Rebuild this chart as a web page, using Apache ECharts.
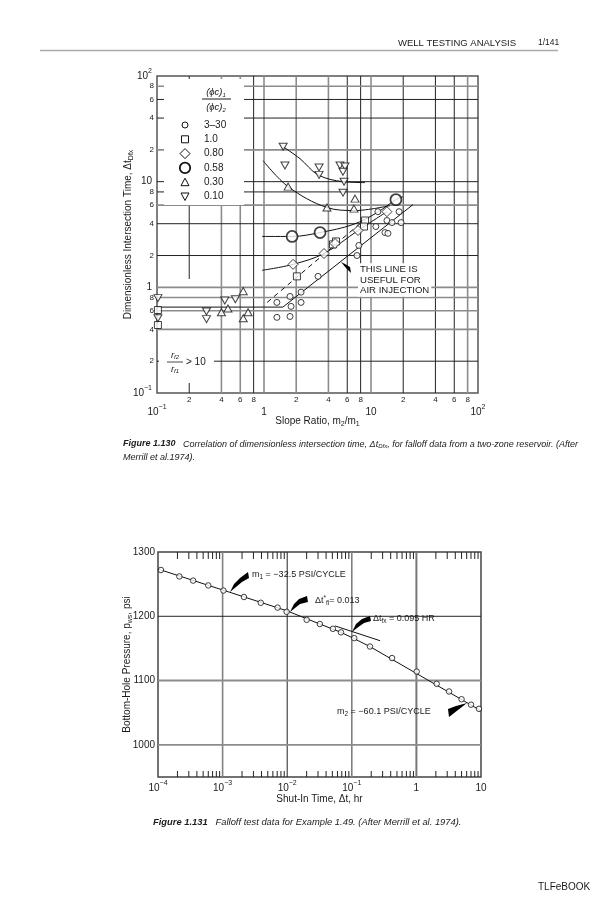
<!DOCTYPE html>
<html>
<head>
<meta charset="utf-8">
<script src="https://cdn.jsdelivr.net/npm/echarts@6.0.0/dist/echarts.min.js"></script>
<style>
html,body{margin:0;padding:0;background:#fff;}
#chart{width:604px;height:900px;}
</style>
</head>
<body>
<div id="chart"></div>
<script>
// ================= Figure 1.130 : Δt_Dfx vs slope ratio m2/m1 =================
const slopeRatioGrid = [0.2,0.4,0.6,0.8,1,2,4,6,8,10,20,40,60,80];
const deltaTGrid     = [0.2,0.4,0.6,0.8,1,2,4,6,8,10,20,40,60,80];
const legendRatios   = ['3\u201330','1.0','0.80','0.58','0.30','0.10'];

// [slope ratio m2/m1, Δt_Dfx]
const pts_3_30 = [[1.32,0.72],[1.75,0.82],[1.79,0.66],[1.32,0.52],[1.75,0.53],[2.22,0.90],[2.22,0.72],
                  [3.2,1.27],[7.4,2.0],[7.7,2.49],[11.1,3.76],[13.5,3.3],[14.4,3.24],[14.1,4.29],
                  [15.7,4.1],[19.1,4.1],[18.3,5.2],[11.6,5.2]];
const pts_1_0  = [[0.102,0.61],[0.102,0.44],[2.03,1.27],[4.41,2.55],[4.71,2.72],[8.8,4.29],[8.6,3.76]];
const pts_0_80 = [[1.87,1.65],[3.64,2.09],[4.61,2.60],[7.56,3.45],[14.1,5.2]];
const pts_0_58 = [[1.83,3.03],[3.34,3.30],[17.1,6.76]];
const pts_0_30 = [[1.68,8.97],[3.88,5.69],[7.09,6.91],[6.93,5.56],[0.64,0.92],[0.46,0.63],[0.40,0.58],
                  [0.71,0.58],[0.64,0.51]];
const pts_0_10 = [[1.51,21.4],[1.57,14.2],[3.27,13.6],[3.27,11.6],[5.13,14.2],[5.71,13.9],[5.47,12.4],
                  [5.6,10.0],[5.47,7.87],[0.43,0.75],[0.54,0.77],[0.29,0.59],[0.29,0.50],[0.102,0.79],[0.102,0.51]];

const curve_0_10 = [[1.51,21.4],[2.17,16.5],[3.2,11.6],[5.47,10.0],[8.8,9.8]];
const curve_0_30 = [[0.98,15.8],[1.68,8.97],[3.88,5.69],[7.09,5.33],[15.1,5.94]];
const curve_0_58 = [[0.96,3.03],[1.83,3.03],[3.34,3.30],[6.79,3.93],[11.4,5.1],[17.1,6.76],[19.9,7.2]];
const curve_0_80 = [[0.96,1.45],[1.87,1.65],[3.64,2.09],[7.56,3.45],[14.1,5.2]];
const airLine    = [[0.1,0.65],[1.5,0.65],[24.7,6.07]];
const dashLine   = [[1.07,0.72],[8.8,4.4]];

// ================= Figure 1.131 : falloff test data =================
const shutInTime = [1.11e-4,2.14e-4,3.5e-4,6.0e-4,1.03e-3,2.14e-3,3.9e-3,7.1e-3,9.8e-3,0.020,0.032,
                    0.051,0.068,0.109,0.191,0.42,1.01,2.06,3.2,5.0,7.0,9.3];
const pws        = [1272,1262,1255.5,1248,1240,1230,1221,1213.5,1207,1194.5,1188,
                    1180.5,1175,1166,1153,1135,1114,1095,1083,1071,1062.5,1056];
const fitTime    = [1e-4,0.0099,0.032,0.068,0.11,0.19,10];
const fitP       = [1273.5,1208.5,1188,1175,1165,1153,1053];
const tangentTime = [0.055,0.274];
const tangentP    = [1185,1162];
const pressureGrid = [1000,1100,1200];
const shutInGrid   = [1e-3,1e-2,1e-1,1];
const minorMantissa = [2,3,4,5,6,7,8,9];
const shutInDecades = [1e-4,1e-3,1e-2,1e-1,1];

// ================= helpers / styles =================
const FONT = '"Liberation Sans", Arial, Helvetica, sans-serif';
const INK = '#1a1a1a';
function expLabel(v){
  const e = Math.round(Math.log10(v));
  if (e === 0) return '{b|1}';
  if (e === 1) return '{b|10}';
  return '{b|10}{s|' + (e < 0 ? '\u2212' + (-e) : e) + '}';
}
const expRich = {
  b:{fontSize:10, lineHeight:16, fontFamily:FONT, color:INK},
  s:{fontSize:7, lineHeight:8, verticalAlign:'top', fontFamily:FONT, color:INK}
};
const subRich = {
  n:{fontSize:10, lineHeight:14, fontFamily:FONT, color:INK},
  sub:{fontSize:7, lineHeight:8, verticalAlign:'bottom', fontFamily:FONT, color:INK}
};
function mantissa(v){ return Math.round(v / Math.pow(10, Math.floor(Math.log10(v) + 1e-9))); }
function near(a,b){ return Math.abs(a-b) / b < 1e-6; }
const darkX130 = [0.2,0.8,6,8,20,40,60];
const darkY130 = [60,40,10,8,4,2,0.2];
function style130(v, list){ return list.some(d => near(d, v)) ? {c:'#222', w:1} : {c:'#8c8c8c', w:1.6}; }

function vLines130(params, api){
  const v = api.value(0);
  const a = api.coord([v, 0.1]), b = api.coord([v, 100]);
  const st = style130(v, darkX130);
  const ch = [];
  if (near(v, 0.2)) {
    // this grid line is interrupted in the lower-left corner (label area): upper part + bottom tick
    const c = api.coord([v, 1.2]);
    ch.push({type:'line', shape:{x1:c[0],y1:c[1],x2:b[0],y2:b[1]}, style:{stroke:st.c, lineWidth:st.w}});
    ch.push({type:'line', shape:{x1:a[0],y1:a[1],x2:a[0],y2:a[1]-10}, style:{stroke:st.c, lineWidth:st.w}});
  } else {
    ch.push({type:'line', shape:{x1:a[0],y1:a[1],x2:b[0],y2:b[1]}, style:{stroke:st.c, lineWidth:st.w}});
  }
  const m = mantissa(v);
  if (m !== 1) ch.push({type:'text', style:{text:String(m), x:a[0], y:a[1]+3, align:'center', textAlign:'center',
      verticalAlign:'top', textVerticalAlign:'top', fontSize:8, fontFamily:FONT, fill:INK}});
  return {type:'group', children:ch};
}
function hLines130(params, api){
  const v = api.value(1);
  const a = api.coord([0.1, v]), b = api.coord([100, v]);
  const st = style130(v, darkY130);
  const ch = [{type:'line', shape:{x1:a[0],y1:a[1],x2:b[0],y2:b[1]}, style:{stroke:st.c, lineWidth:st.w}}];
  const m = mantissa(v);
  if (m !== 1) ch.push({type:'text', style:{text:String(m), x:a[0]-3, y:a[1], align:'right', textAlign:'right',
      verticalAlign:'middle', textVerticalAlign:'middle', fontSize:8, fontFamily:FONT, fill:INK}});
  return {type:'group', children:ch};
}
const style131V = {0.001:{c:'#808080',w:1.6}, 0.01:{c:'#222',w:1}, 0.1:{c:'#808080',w:1.6}, 1:{c:'#777',w:2}};
const style131H = {1000:{c:'#8c8c8c',w:1.6}, 1100:{c:'#8c8c8c',w:2}, 1200:{c:'#222',w:1}};
function vLines131(params, api){
  const v = api.value(0);
  const a = api.coord([v, 950]), b = api.coord([v, 1300]);
  const key = Object.keys(style131V).find(k => near(+k, v));
  const st = style131V[key] || {c:'#888',w:1.5};
  return {type:'line', shape:{x1:a[0],y1:a[1],x2:b[0],y2:b[1]}, style:{stroke:st.c, lineWidth:st.w}};
}
function hLines131(params, api){
  const v = api.value(1);
  const a = api.coord([1e-4, v]), b = api.coord([10, v]);
  const st = style131H[v] || {c:'#888',w:1.5};
  return {type:'line', shape:{x1:a[0],y1:a[1],x2:b[0],y2:b[1]}, style:{stroke:st.c, lineWidth:st.w}};
}
function minorTicks131(params, api){
  const v = api.value(0);
  const t = api.coord([v, 1300]), b = api.coord([v, 950]);
  return {type:'group', children:[
    {type:'line', shape:{x1:t[0],y1:t[1],x2:t[0],y2:t[1]+7}, style:{stroke:'#222', lineWidth:1}},
    {type:'line', shape:{x1:b[0],y1:b[1],x2:b[0],y2:b[1]-6}, style:{stroke:'#222', lineWidth:1}}
  ]};
}
const minorTickValues = [];
shutInDecades.forEach(d => minorMantissa.forEach(m => minorTickValues.push([d*m, 1100])));

const openSym = {color:'#fff', borderColor:'#111', borderWidth:1};
function scatter130(name, data, symbol, size, extra){
  return Object.assign({type:'scatter', name, data, xAxisIndex:0, yAxisIndex:0, symbol, symbolSize:size,
    itemStyle:Object.assign({}, openSym), z:4, silent:true}, extra || {});
}
function line130(data, extra){
  return Object.assign({type:'line', data, xAxisIndex:0, yAxisIndex:0, showSymbol:false, symbol:'none',
    lineStyle:{color:'#111', width:1}, z:3, silent:true}, extra || {});
}

// ---------- graphic (page text, legend box, annotations) ----------
const G = [];
function txt(x, y, text, st){
  G.push({type:'text', x, y, z:6, silent:true, style:Object.assign({text, fill:INK, fontFamily:FONT, fontSize:9,
    align:'left', textAlign:'left', verticalAlign:'middle', textVerticalAlign:'middle'}, st || {})});
}
function whiteBox(x, y, w, h){ G.push({type:'rect', z:2, silent:true, shape:{x, y, width:w, height:h}, style:{fill:'#fff'}}); }
function wedge(points){ G.push({type:'polygon', z:6, silent:true, shape:{points}, style:{fill:'#000'}}); }

// header / footer
txt(398, 43, 'WELL TESTING ANALYSIS', {fontSize:9.5});
txt(538, 43, '1/141', {fontSize:8.5});
G.push({type:'line', z:6, silent:true, shape:{x1:40, y1:50.5, x2:558, y2:50.5}, style:{stroke:'#aaa', lineWidth:1.5}});
txt(538, 887, 'TLFeBOOK', {fontSize:10});

// legend box of fig 1.130
whiteBox(164, 79, 80, 126);
const capRich = {
  fb:{fontWeight:'bold', fontStyle:'italic', fontFamily:FONT, color:INK},
  sub:{fontSize:6, fontStyle:'italic', verticalAlign:'bottom', lineHeight:7, fontFamily:FONT, color:INK},
  sup:{fontSize:6, verticalAlign:'top', lineHeight:7, fontFamily:FONT, color:INK}
};
txt(216, 92, '(\u03d5c){sub|1}', {fontStyle:'italic', fontSize:9.5, align:'center', textAlign:'center', lineHeight:12, rich:capRich});
G.push({type:'line', z:6, silent:true, shape:{x1:202, y1:99, x2:231, y2:99}, style:{stroke:INK, lineWidth:1}});
txt(216, 107, '(\u03d5c){sub|2}', {fontStyle:'italic', fontSize:9.5, align:'center', textAlign:'center', lineHeight:12, rich:capRich});
legendRatios.forEach((r, i) => {
  const y = 125 + i * 14.3, x = 185;
  const st = {fill:'#fff', stroke:'#111', lineWidth:1};
  let el;
  if (i === 0) el = {type:'circle', shape:{cx:x, cy:y, r:3}, style:st};
  else if (i === 1) el = {type:'rect', shape:{x:x-3.5, y:y-3.5, width:7, height:7}, style:st};
  else if (i === 2) el = {type:'polygon', shape:{points:[[x,y-5],[x+5,y],[x,y+5],[x-5,y]]}, style:st};
  else if (i === 3) el = {type:'circle', shape:{cx:x, cy:y, r:5.2}, style:Object.assign({}, st, {lineWidth:1.8})};
  else if (i === 4) el = {type:'polygon', shape:{points:[[x,y-4],[x+4,y+3.5],[x-4,y+3.5]]}, style:st};
  else el = {type:'polygon', shape:{points:[[x,y+4],[x+4,y-3.5],[x-4,y-3.5]]}, style:st};
  el.z = 6; el.silent = true; G.push(el);
  txt(204, y, r, {fontSize:10});
});

// r_f2/r_f1 > 10 label
whiteBox(159, 346, 55, 33);
txt(175, 355, 'r{sub|f2}', {fontStyle:'italic', fontSize:9.5, align:'center', textAlign:'center', lineHeight:11, rich:capRich});
G.push({type:'line', z:6, silent:true, shape:{x1:167, y1:362, x2:183, y2:362}, style:{stroke:INK, lineWidth:0.8}});
txt(175, 369, 'r{sub|f1}', {fontStyle:'italic', fontSize:9.5, align:'center', textAlign:'center', lineHeight:11, rich:capRich});
txt(186, 362, '> 10', {fontSize:10});

// THIS LINE IS USEFUL FOR AIR INJECTION
txt(358, 280, 'THIS LINE IS\nUSEFUL FOR\nAIR INJECTION', {fontSize:9.6, lineHeight:10.5, backgroundColor:'#fff', padding:[1,2,1,2]});
wedge([[341,262],[345,264],[350,267],[351,273],[346,268]]);

// captions
const capRich1 = Object.assign({}, capRich, {fb:Object.assign({}, capRich.fb, {fontSize:9})});
const capRich2 = Object.assign({}, capRich, {fb:Object.assign({}, capRich.fb, {fontSize:9.4})});
txt(123, 444, '{fb|Figure 1.130}   Correlation of dimensionless intersection time, \u0394t{sub|Dfx}, for falloff data from a two-zone reservoir. (After',
    {fontStyle:'italic', fontSize:9, lineHeight:11, rich:capRich1});
txt(123, 457, 'Merrill et al.1974).', {fontStyle:'italic', fontSize:9});
txt(153, 822, '{fb|Figure 1.131}   Falloff test data for Example 1.49. (After Merrill et al. 1974).',
    {fontStyle:'italic', fontSize:9.4, lineHeight:11, rich:capRich2});

// annotations of fig 1.131
const annRich = {
  sub:{fontSize:6.5, verticalAlign:'bottom', lineHeight:7, fontFamily:FONT, color:INK},
  sup:{fontSize:6.5, verticalAlign:'top', lineHeight:7, fontFamily:FONT, color:INK}
};
txt(252, 575, 'm{sub|1} = \u221232.5 PSI/CYCLE', {fontSize:9, lineHeight:12, rich:annRich});
txt(315, 601, '\u0394t{sup|*}{sub|fi}= 0.013', {fontSize:9, lineHeight:12, rich:annRich});
txt(373, 619, '\u0394t{sub|fx} = 0.095 HR', {fontSize:9, lineHeight:12, rich:annRich});
txt(337, 712, 'm{sub|2} = \u221260.1 PSI/CYCLE', {fontSize:9, lineHeight:12, rich:annRich});
wedge([[230,592],[234,584],[240,578],[248,572],[249,578],[242,582],[236,587]]);
wedge([[290,612],[294,604],[299,599],[307,596],[308,602],[300,604],[295,608]]);
wedge([[352,632],[356,624],[362,619],[370,616],[371,621],[364,623],[357,628]]);
wedge([[448,709],[456,706],[467,703],[458,710],[449,717]]);

// ---------- chart ----------
const chart = echarts.init(document.getElementById('chart'), null, {renderer:'canvas', width:604, height:900});
chart.setOption({
  animation:false,
  backgroundColor:'#fff',
  textStyle:{fontFamily:FONT},
  grid:[
    {left:157, top:76, width:321, height:317, show:true, borderColor:'#555', borderWidth:1.5, backgroundColor:'transparent'},
    {left:158, top:552, width:323, height:225, show:true, borderColor:'#444', borderWidth:1.5, backgroundColor:'transparent'}
  ],
  xAxis:[
    {gridIndex:0, type:'log', logBase:10, min:0.1, max:100,
     axisLine:{show:false}, axisTick:{show:false}, splitLine:{show:false},
     axisLabel:{margin:11, formatter:expLabel, rich:expRich},
     name:'{n|Slope Ratio, m}{sub|2}{n|/m}{sub|1}', nameLocation:'middle', nameGap:21, nameMoveOverlap:false,
     nameTextStyle:{rich:subRich}},
    {gridIndex:1, type:'log', logBase:10, min:1e-4, max:10,
     axisLine:{show:false}, axisTick:{show:false}, splitLine:{show:false},
     axisLabel:{margin:3, formatter:expLabel, rich:expRich},
     name:'{n|Shut-In Time, \u0394t, hr}', nameLocation:'middle', nameGap:15, nameMoveOverlap:false,
     nameTextStyle:{rich:subRich}}
  ],
  yAxis:[
    {gridIndex:0, type:'log', logBase:10, min:0.1, max:100,
     axisLine:{show:false}, axisTick:{show:false}, splitLine:{show:false},
     axisLabel:{margin:5, formatter:expLabel, rich:expRich},
     name:'{n|Dimensionless Intersection Time, \u0394t}{sub|Dfx}', nameLocation:'middle', nameGap:22, nameMoveOverlap:false,
     nameTextStyle:{rich:subRich}},
    {gridIndex:1, type:'value', min:950, max:1300, interval:50,
     axisLine:{show:false}, axisTick:{show:false}, splitLine:{show:false},
     axisLabel:{margin:3, fontSize:10, color:INK, fontFamily:FONT, formatter:v => (v % 100 === 0 ? String(v) : '')},
     name:'{n|Bottom-Hole Pressure, p}{sub|ws}{n|, psi}', nameLocation:'middle', nameGap:24, nameMoveOverlap:false,
     nameTextStyle:{rich:subRich}}
  ],
  graphic:{elements:G},
  series:[
    {type:'custom', xAxisIndex:0, yAxisIndex:0, z:1, silent:true, renderItem:vLines130, data:slopeRatioGrid.map(v => [v, 1])},
    {type:'custom', xAxisIndex:0, yAxisIndex:0, z:1, silent:true, renderItem:hLines130, data:deltaTGrid.map(v => [1, v])},
    line130(curve_0_10, {smooth:0.35}),
    line130(curve_0_30, {smooth:0.35}),
    line130(curve_0_58, {smooth:0.35}),
    line130(curve_0_80, {smooth:0.35}),
    line130(airLine),
    line130(dashLine, {lineStyle:{color:'#111', width:1, type:[5,4]}}),
    scatter130(legendRatios[0], pts_3_30, 'circle', 6),
    scatter130(legendRatios[1], pts_1_0, 'rect', 7),
    scatter130(legendRatios[2], pts_0_80, 'diamond', 10),
    scatter130(legendRatios[3], pts_0_58, 'circle', 11, {itemStyle:{color:'#fff', borderColor:'#111', borderWidth:1.8}}),
    scatter130(legendRatios[4], pts_0_30, 'triangle', [8,7]),
    scatter130(legendRatios[5], pts_0_10, 'triangle', [8,7], {symbolRotate:180}),

    {type:'custom', xAxisIndex:1, yAxisIndex:1, z:1, silent:true, renderItem:vLines131, data:shutInGrid.map(v => [v, 1100])},
    {type:'custom', xAxisIndex:1, yAxisIndex:1, z:1, silent:true, renderItem:hLines131, data:pressureGrid.map(v => [1, v])},
    {type:'custom', xAxisIndex:1, yAxisIndex:1, z:1, silent:true, renderItem:minorTicks131, data:minorTickValues},
    {type:'line', xAxisIndex:1, yAxisIndex:1, z:3, silent:true, showSymbol:false, symbol:'none',
     data:fitTime.map((t, i) => [t, fitP[i]]), lineStyle:{color:'#111', width:1}},
    {type:'line', xAxisIndex:1, yAxisIndex:1, z:3, silent:true, showSymbol:false, symbol:'none',
     data:tangentTime.map((t, i) => [t, tangentP[i]]), lineStyle:{color:'#111', width:1}},
    {type:'scatter', xAxisIndex:1, yAxisIndex:1, z:4, silent:true, symbol:'circle', symbolSize:5.5,
     itemStyle:{color:'#fff', borderColor:'#111', borderWidth:1},
     data:shutInTime.map((t, i) => [t, pws[i]])}
  ]
});
</script>
</body>
</html>
